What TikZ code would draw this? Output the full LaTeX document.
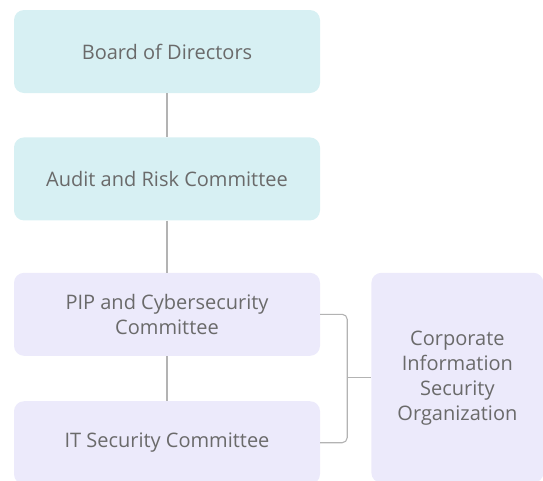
\documentclass[tikz,border=0pt]{standalone}
\usepackage{fontspec}
\setmainfont{Open Sans}
\usepackage{tikz}
\usetikzlibrary{positioning}
\definecolor{board}{HTML}{D7F0F3}
\definecolor{lilac}{HTML}{ECEAFB}
\definecolor{ink}{HTML}{6A6A6A}
\definecolor{wire}{HTML}{B3B3B3}

\begin{document}
\begin{tikzpicture}[x=1pt,y=-1pt,every node/.style={font=\fontsize{20}{25}\selectfont,text=ink,align=center},tier/.style={fill=board,rounded corners=10pt,minimum width=306pt,minimum height=83pt,inner sep=0pt},sub/.style={tier,fill=lilac},link/.style={draw=wire,line width=1.1pt}]
\useasboundingbox (0,0) rectangle (543,480);
\node[tier] (board) at (167,51.5) {Board of Directors};
\node[tier,below=44pt of board] (audit) {Audit and Risk Committee};
\node[sub,below=52pt of audit] (pip) {PIP and Cybersecurity\\ Committee};
\node[sub,below=45pt of pip] (itsec) {IT Security Committee};
\node[sub,minimum width=172pt,minimum height=210pt,right=51pt of pip.north east,anchor=north west] (corp) {Corporate\\ Information\\ Security\\ Organization};
\coordinate[left=24pt of corp.west] (hub);
\draw[link] (board)--(audit);
\draw[link] (audit)--(pip);
\draw[link] (pip)--(itsec);
\draw[link,rounded corners=5pt] (pip.east)-|(hub)|-(itsec.east);
\draw[link] (hub)--(corp.west);
\end{tikzpicture}
\end{document}
